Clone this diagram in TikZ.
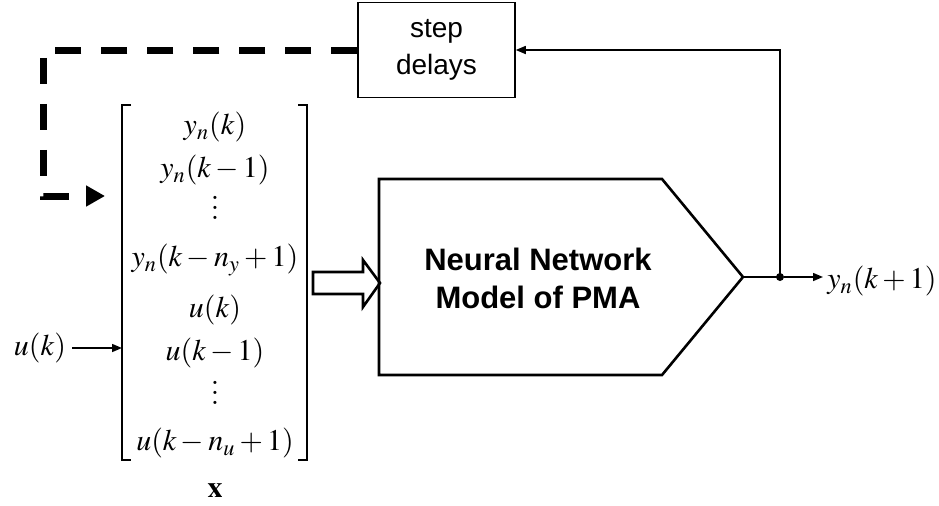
\documentclass[tikz,border=0pt]{standalone}
\usepackage{mathptmx}
\usepackage[no-math]{fontspec}
\setmainfont{Liberation Sans}
\usetikzlibrary{arrows.meta}
% three stacked dots without the extra top kern of \vdots
\newcommand\colldots{\vbox{\baselineskip=5pt\lineskiplimit=0pt
  \hbox{$.$}\hbox{$.$}\hbox{$.$}}}
\begin{document}
\begin{tikzpicture}[x=0.5pt,y=-0.5pt,
  thinline/.style={line width=0.75pt},
  thickline/.style={line width=1.3pt},
  tip/.style={-{Triangle[length=5pt,width=4pt]}},
  dashline/.style={line width=3.5pt,dash pattern=on 13pt off 10pt,
    -{Triangle[length=9.5pt,width=10pt]}},
  entry/.style={inner sep=0pt,font=\fontsize{15}{17}\selectfont},
  sdbox/.style={draw,line width=0.75pt,minimum width=78.5pt,minimum height=47.5pt,
    align=center,inner sep=0pt,font=\fontsize{14}{18.5}\selectfont},
  nnlabel/.style={align=center,font=\fontsize{15.5}{19}\selectfont\bfseries}]
\useasboundingbox (0,0) rectangle (939,505);

% step delays block
\node[sdbox] (sd) at (436.5,50) {step\\delays};

% regressor vector entries
\node[entry] (r1) at (215,127) {$y_n(k)$};
\node[entry] (r2) at (215,170) {$y_n(k-1)$};
\node[entry] (r3) at (215,208) {\colldots};
\node[entry] (r4) at (215,260) {$y_n(k-n_y+1)$};
\node[entry] (r5) at (215,310) {$u(k)$};
\node[entry] (r6) at (215,353) {$u(k-1)$};
\node[entry] (r7) at (215,393) {\colldots};
\node[entry] (r8) at (215,443) {$u(k-n_u+1)$};
\node[entry] (xv) at (215,490) {$\mathbf{x}$};

% brackets
\draw[thinline] (131,105) -- (122,105) -- (122,460) -- (131,460);
\draw[thinline] (298,105) -- (307,105) -- (307,460) -- (298,460);
\coordinate (lb) at (122,348);

% input u(k)
\node[entry] (uk) at (40,348) {$u(k)$};
\draw[thinline,tip] (uk.east) ++(3pt,0) -- (lb);

% dashed feedback into the vector
\coordinate (c2) at (43,196);
\coordinate (mi) at (105,196);
\draw[dashline] (sd.west) -| (c2) -- (mi);

% hollow arrow into the network
\draw[thickline,fill=white] (313,272) -- (363,272) -- (363,260) -- (380,283)
  -- (363,307) -- (363,294) -- (313,294) -- cycle;

% neural network block
\coordinate (nntip) at (743,277);
\draw[thickline] (379,179) -- (662,179) -- (nntip) -- (662,375) -- (379,375) -- cycle;
\node[nnlabel] (nn) at (538,278) {Neural Network\\Model of PMA};

% output and feedback
\node[circle,fill,inner sep=0pt,minimum size=4pt] (dot) at (780,277) {};
\node[entry,anchor=west,inner sep=2pt] (yout) at (823,281) {$y_n(k+1)$};
\draw[thinline] (nntip) -- (dot.center);
\draw[thinline,tip] (dot) -- (dot -| yout.west);
\draw[thinline,tip] (dot.center) |- (sd.east);
\end{tikzpicture}
\end{document}
